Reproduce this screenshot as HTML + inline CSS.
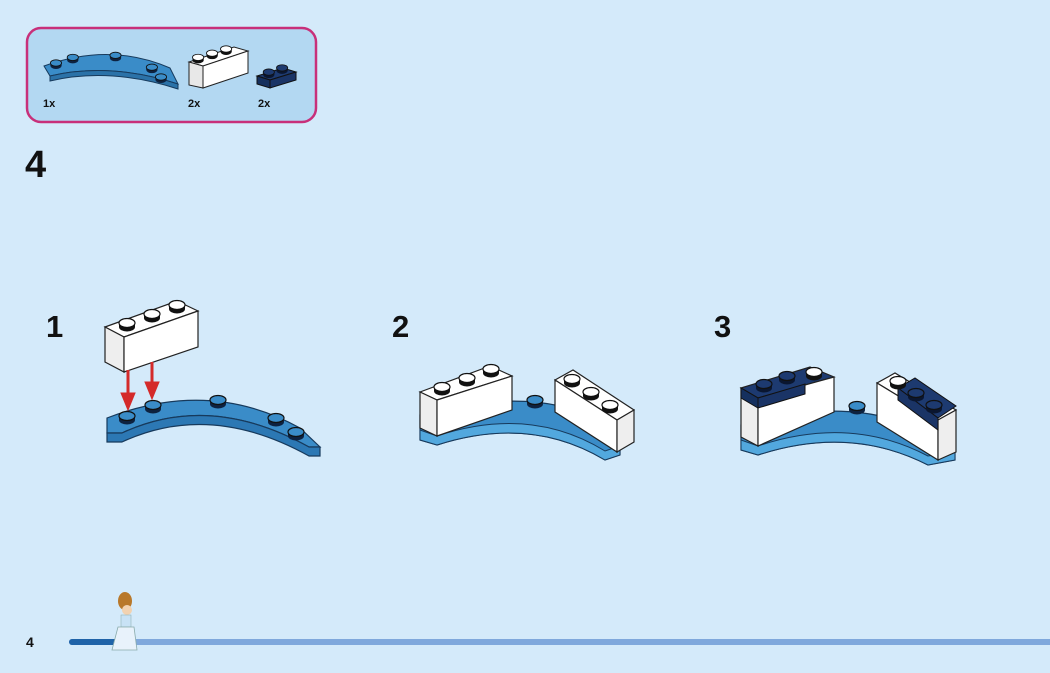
<!DOCTYPE html>
<html><head><meta charset="utf-8"><style>
html,body{margin:0;padding:0;background:#d4eafa;}
body{width:1050px;height:673px;overflow:hidden;position:relative;font-family:"Liberation Sans",sans-serif;}
</style></head><body>
<svg width="1050" height="673" viewBox="0 0 1050 673" xmlns="http://www.w3.org/2000/svg" style="position:absolute;left:0;top:0">
<defs>
<g id="sw"><ellipse cx="0" cy="4" rx="8" ry="4.5" fill="#111"/><rect x="-8" y="0" width="16" height="4" fill="#111"/><ellipse cx="0" cy="0" rx="8" ry="4.5" fill="#fff" stroke="#111" stroke-width="1.2"/></g>
<g id="sb"><ellipse cx="0" cy="4" rx="8" ry="4.5" fill="#0d2240"/><rect x="-8" y="0" width="16" height="4" fill="#0d2240"/><ellipse cx="0" cy="0" rx="8" ry="4.5" fill="#3a8cc8" stroke="#111" stroke-width="1.2"/></g>
<g id="sd"><ellipse cx="0" cy="4" rx="8" ry="4.5" fill="#0a1630"/><rect x="-8" y="0" width="16" height="4" fill="#0a1630"/><ellipse cx="0" cy="0" rx="8" ry="4.5" fill="#1d3a70" stroke="#111" stroke-width="1.2"/></g>
</defs>

<rect x="27" y="28" width="289" height="94" rx="14" fill="#b3d8f2" stroke="#c8307a" stroke-width="2.5"/>
<path d="M44 66 Q110 42 170 68 L178 84 Q110 62 50 76 Z" fill="#3a8cc8" stroke="#173a5c" stroke-width="1"/>
<path d="M50 76 Q110 62 178 84 L178 89 Q110 67 50 81 Z" fill="#2b72a8" stroke="#173a5c" stroke-width="1"/>
<g transform="scale(0.7)"><use href="#sb" x="80" y="90"/><use href="#sb" x="104" y="82"/><use href="#sb" x="165" y="79"/><use href="#sb" x="217" y="96"/><use href="#sb" x="230" y="110"/></g>
<polygon points="189,62 234,47 248,51 203,66" fill="#fff" stroke="#222"/>
<polygon points="189,62 203,66 203,88 189,85" fill="#e8e8e8" stroke="#222"/>
<polygon points="203,66 248,51 248,73 203,88" fill="#fff" stroke="#222"/>
<g transform="scale(0.7)"><use href="#sw" x="283" y="82"/><use href="#sw" x="303" y="76"/><use href="#sw" x="323" y="70"/></g>
<polygon points="257,76 283,68 296,72 270,80" fill="#1d3a70" stroke="#111"/>
<polygon points="257,76 270,80 270,88 257,84" fill="#15305e" stroke="#111"/>
<polygon points="270,80 296,72 296,80 270,88" fill="#1a3466" stroke="#111"/>
<g transform="scale(0.7)"><use href="#sd" x="384" y="103"/><use href="#sd" x="403" y="97"/></g>
<text x="43" y="107" font-size="11" font-weight="bold" fill="#111">1x</text>
<text x="188" y="107" font-size="11" font-weight="bold" fill="#111">2x</text>
<text x="258" y="107" font-size="11" font-weight="bold" fill="#111">2x</text>

<text x="25" y="177" font-size="38" font-weight="bold" fill="#111">4</text>
<text x="46" y="337" font-size="31" font-weight="bold" fill="#111">1</text>
<text x="392" y="337" font-size="31" font-weight="bold" fill="#111">2</text>
<text x="714" y="337" font-size="31" font-weight="bold" fill="#111">3</text>

<path d="M107 418 Q210 378 300 428 L320 447 L309 447 Q210 392 122 433 L107 433 Z" fill="#3a8cc8" stroke="#173a5c" stroke-width="1.2"/>
<path d="M107 433 L122 433 Q210 392 309 447 L320 447 L320 456 L309 456 Q210 401 122 442 L107 442 Z" fill="#2c78b4" stroke="#173a5c" stroke-width="1.2"/>
<use href="#sb" x="127" y="416"/><use href="#sb" x="153" y="405"/><use href="#sb" x="218" y="400"/><use href="#sb" x="276" y="418"/><use href="#sb" x="296" y="432"/>
<polygon points="105,327 177,301 198,311 124,337" fill="#fff" stroke="#222" stroke-width="1.2"/>
<polygon points="105,327 124,337 124,372 105,362" fill="#eee" stroke="#222" stroke-width="1.2"/>
<polygon points="124,337 198,311 198,347 124,372" fill="#fff" stroke="#222" stroke-width="1.2"/>
<use href="#sw" x="127" y="323"/><use href="#sw" x="152" y="314"/><use href="#sw" x="177" y="305"/>
<g fill="#d42a2a" stroke="#d42a2a"><line x1="128" y1="370" x2="128" y2="398" stroke-width="3"/><polygon points="121,393 135,393 128,410"/><line x1="152" y1="362" x2="152" y2="387" stroke-width="3"/><polygon points="145,382 159,382 152,399"/></g>

<path d="M420 415 Q530 385 600 420 L620 440 L620 455 L605 460 Q530 415 437 445 L420 440 Z" fill="#3a8cc8" stroke="#173a5c" stroke-width="1.2"/>
<path d="M420 430 L437 436 Q530 405 605 451 L620 446 L620 455 L605 460 Q530 415 437 445 L420 440 Z" fill="#52a8de" stroke="#173a5c" stroke-width="1"/>
<use href="#sb" x="535" y="400"/>
<polygon points="420,392 490,366 512,376 437,400" fill="#fff" stroke="#222" stroke-width="1.2"/>
<polygon points="420,392 437,400 437,436 420,428" fill="#eee" stroke="#222" stroke-width="1.2"/>
<polygon points="437,400 512,376 512,410 437,436" fill="#fff" stroke="#222" stroke-width="1.2"/>
<use href="#sw" x="442" y="387"/><use href="#sw" x="467" y="378"/><use href="#sw" x="491" y="369"/>
<polygon points="555,380 573,370 634,410 617,420" fill="#fff" stroke="#222" stroke-width="1.2"/>
<polygon points="555,380 617,420 617,452 555,412" fill="#fff" stroke="#222" stroke-width="1.2"/>
<polygon points="617,420 634,410 634,442 617,452" fill="#eee" stroke="#222" stroke-width="1.2"/>
<use href="#sw" x="572" y="379"/><use href="#sw" x="591" y="392"/><use href="#sw" x="610" y="405"/>

<path d="M741 425 Q850 395 920 430 L955 445 L955 460 L928 465 Q850 425 758 455 L741 450 Z" fill="#3a8cc8" stroke="#173a5c" stroke-width="1.2"/>
<path d="M741 440 L758 446 Q850 415 928 456 L955 452 L955 460 L928 465 Q850 425 758 455 L741 450 Z" fill="#52a8de" stroke="#173a5c" stroke-width="1"/>
<use href="#sb" x="857" y="406"/>
<polygon points="741,388 810,367 834,377 758,398" fill="#1d3a70" stroke="#222" stroke-width="1.2"/>
<polygon points="741,388 758,398 758,446 741,437" fill="#eee" stroke="#222" stroke-width="1.2"/>
<polygon points="758,398 834,377 834,412 758,446" fill="#fff" stroke="#222" stroke-width="1.2"/>
<polygon points="741,388 758,398 758,408 741,398" fill="#15305e" stroke="#111"/>
<polygon points="758,398 805,384 805,394 758,408" fill="#1a3466" stroke="#111"/>
<use href="#sd" x="764" y="384"/><use href="#sd" x="787" y="376"/><use href="#sw" x="814" y="372"/>
<polygon points="877,383 895,373 956,410 938,420" fill="#fff" stroke="#222" stroke-width="1.2"/>
<polygon points="877,383 938,420 938,460 877,422" fill="#fff" stroke="#222" stroke-width="1.2"/>
<polygon points="938,420 956,410 956,452 938,460" fill="#eee" stroke="#222" stroke-width="1.2"/>
<polygon points="898,388 915,378 956,406 938,418" fill="#1d3a70" stroke="#111"/>
<polygon points="898,388 938,418 938,430 898,400" fill="#1a3466" stroke="#111"/>
<use href="#sw" x="898" y="381"/><use href="#sd" x="916" y="393"/><use href="#sd" x="934" y="405"/>

<text x="26" y="647" font-size="14" font-weight="bold" fill="#111">4</text>
<line x1="72" y1="642" x2="1050" y2="642" stroke="#7fa8dc" stroke-width="6" stroke-linecap="round"/>
<line x1="72" y1="642" x2="118" y2="642" stroke="#1f63a8" stroke-width="6" stroke-linecap="round"/>
<ellipse cx="125" cy="601" rx="7" ry="9" fill="#b8782a"/>
<circle cx="127" cy="610" r="5" fill="#f2d2b0"/>
<rect x="121" y="615" width="10" height="12" fill="#c8e2f5" stroke="#8aa" stroke-width="0.5"/>
<path d="M118 627 L134 627 L137 650 L112 650 Z" fill="#e8f2fb" stroke="#8aa" stroke-width="0.8"/>
</svg>
</body></html>
